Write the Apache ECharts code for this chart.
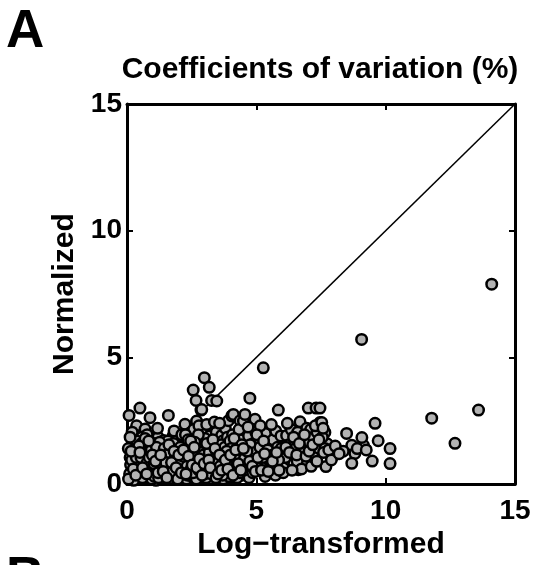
<!DOCTYPE html>
<html>
<head>
<meta charset="utf-8">
<script src="https://cdn.jsdelivr.net/npm/echarts@6/dist/echarts.min.js"></script>
<style>
  html, body { margin: 0; padding: 0; background: #fff; }
  #chart { width: 535px; height: 565px; }
</style>
</head>
<body>
<div id="chart"></div>
<script>
// Coefficient of variation (%) per feature: [log-transformed, normalized]
const cvPairs = [
  // 0 – 0.5
  [0.08,2.71],[0.18,0.50],[0.12,1.05],[0.22,1.62],[0.15,0.28],[0.30,0.85],[0.37,2.30],[0.28,1.95],
  [0.42,1.30],[0.35,0.62],[0.45,0.35],[0.25,1.18],[0.48,1.78],[0.40,0.95],[0.20,2.05],[0.33,1.45],
  // 0.5 – 1
  [0.50,3.00],[0.70,2.17],[0.89,2.62],[0.89,0.18],[0.55,0.45],[0.62,1.10],[0.68,0.72],[0.75,1.55],
  [0.80,0.30],[0.58,1.85],[0.85,1.25],[0.95,0.88],[0.72,0.55],[0.92,1.70],[0.65,1.38],[0.98,0.40],
  [0.78,1.95],[0.52,0.78],
  // 1 – 1.5
  [1.05,0.62],[1.10,1.20],[1.15,0.35],[1.20,1.85],[1.25,0.95],[1.30,1.50],[1.35,0.20],[1.40,0.75],
  [1.45,1.10],[1.08,1.60],[1.18,2.20],[1.28,0.50],[1.38,1.35],[1.48,0.28],[1.22,0.82],[1.42,1.72],
  [1.12,0.15],
  // 1.5 – 2
  [1.60,2.71],[1.55,0.45],[1.62,1.05],[1.68,1.45],[1.72,0.68],[1.78,1.90],[1.85,0.30],[1.90,1.25],
  [1.95,0.90],[1.58,1.70],[1.65,0.22],[1.75,1.15],[1.82,2.10],[1.88,0.55],[1.98,1.60],[1.70,0.95],
  [1.92,1.40],
  // 2 – 2.5
  [2.24,2.36],[2.05,0.60],[2.10,1.30],[2.15,0.35],[2.20,1.80],[2.28,0.85],[2.32,1.55],[2.38,0.48],
  [2.42,1.15],[2.48,2.05],[2.08,1.00],[2.18,1.62],[2.30,0.20],[2.40,0.72],[2.45,1.38],[2.12,1.95],
  [2.35,1.05],[2.22,0.62],
  // 2.5 – 3
  [2.50,0.31],[2.56,3.71],[2.67,3.30],[2.86,2.92],[2.69,2.49],[2.89,2.94],[2.99,4.20],[2.55,1.25],
  [2.60,0.75],[2.65,1.85],[2.70,0.40],[2.75,1.10],[2.80,1.60],[2.85,0.58],[2.90,2.10],[2.95,0.95],
  [2.58,2.15],[2.72,1.45],[2.82,0.25],[2.92,1.30],[2.62,0.55],[2.78,2.30],[2.98,1.75],[2.52,1.65],
  [2.88,1.05],
  // 3 – 3.5
  [3.18,3.82],[3.27,3.30],[3.27,2.17],[3.05,0.70],[3.10,1.40],[3.15,0.35],[3.20,1.90],[3.25,1.05],
  [3.30,0.55],[3.35,1.65],[3.40,0.85],[3.45,2.05],[3.08,2.35],[3.12,1.15],[3.22,0.22],[3.32,1.30],
  [3.42,0.40],[3.48,1.50],[3.02,1.80],[3.38,2.45],[3.47,3.28],
  // 3.5 – 4
  [3.66,1.92],[3.55,0.65],[3.60,1.25],[3.65,0.30],[3.70,1.70],[3.75,0.90],[3.80,2.20],[3.85,0.50],
  [3.90,1.45],[3.95,1.05],[3.92,2.50],[3.58,2.40],[3.72,0.20],[3.82,1.20],[3.62,0.95],[3.88,1.85],
  [3.52,1.55],
  // 4 – 4.5
  [4.05,2.69],[4.05,0.24],[4.11,2.75],[4.43,1.34],[4.37,2.50],[4.10,0.80],[4.15,1.55],[4.20,0.45],
  [4.25,1.95],[4.30,1.10],[4.35,0.65],[4.40,1.75],[4.45,0.35],[4.48,2.20],[4.18,1.25],[4.28,0.90],
  [4.08,1.95],[4.33,2.15],
  // 4.5 – 5
  [4.50,2.49],[4.56,2.75],[4.75,3.39],[4.95,2.56],[4.55,0.85],[4.60,1.45],[4.65,0.40],[4.70,1.90],
  [4.78,1.15],[4.82,0.60],[4.88,1.60],[4.92,0.95],[4.98,2.05],[4.62,1.05],[4.72,0.25],[4.85,1.30],
  [4.68,2.25],
  // 5 – 5.5
  [5.27,4.59],[5.08,0.57],[5.05,1.25],[5.12,1.80],[5.18,0.80],[5.22,1.40],[5.30,0.45],[5.35,2.00],
  [5.40,1.10],[5.45,1.65],[5.15,2.30],[5.38,0.75],[5.48,0.95],[5.25,1.05],[5.02,1.95],
  // 5.5 – 6
  [5.85,2.92],[5.79,0.57],[5.55,1.30],[5.60,0.85],[5.65,1.75],[5.70,1.05],[5.75,2.10],[5.82,1.45],
  [5.90,0.70],[5.95,1.90],[5.58,2.35],[5.68,0.45],[5.92,1.15],
  // 6 – 6.5
  [6.17,1.92],[6.05,1.20],[6.10,0.65],[6.25,1.55],[6.30,0.95],[6.35,2.15],[6.40,1.35],[6.45,0.80],
  [6.20,2.40],[6.48,1.70],[6.12,1.05],
  // 6.5 – 7
  [6.69,2.46],[6.62,0.57],[6.55,1.45],[6.60,2.05],[6.70,1.20],[6.78,1.80],[6.85,0.95],[6.90,1.55],
  [6.95,2.20],[6.58,0.90],[6.82,1.35],[6.75,0.60],
  // 7 – 7.5
  [7.01,3.00],[7.31,3.00],[7.46,2.43],[7.46,3.00],[7.05,1.65],[7.10,2.15],[7.15,1.25],[7.20,1.85],
  [7.25,0.95],[7.30,1.55],[7.35,2.05],[7.40,1.40],[7.12,0.70],[7.28,2.30],[7.22,1.05],
  // 7.5 – 8
  [7.53,2.43],[7.65,2.04],[7.74,1.59],[7.69,0.69],[7.98,1.12],[7.65,1.40],[7.55,1.85],[7.60,1.25],
  [7.80,1.35],[7.90,0.95],[7.58,2.20],
  // above 8
  [8.49,2.00],[8.69,1.53],[9.14,1.53],[8.81,1.21],[8.36,1.30],[8.69,0.82],[9.48,0.91],[9.08,1.84],
  [9.71,1.71],[10.17,1.40],[10.17,0.81],[9.59,2.40],[9.07,5.71],[11.78,2.60],[13.59,2.92],
  [12.68,1.61],[14.10,7.89],[8.05,1.50],[8.20,1.20],[8.90,1.40],[9.25,1.35]
];

// Additional low-variation features packed into the dense band near the origin
const cvPairsDense = [
  [0.10,0.40],[0.14,0.75],[0.26,0.15],[0.32,1.25],[0.44,0.55],[0.05,1.40],[0.38,1.70],[0.18,0.95],
  [0.60,0.25],[0.66,0.90],[0.74,1.20],[0.82,0.60],[0.88,1.45],[0.96,0.20],[0.56,1.60],[0.70,1.80],
  [1.02,1.00],[1.16,0.55],[1.24,1.30],[1.32,0.40],[1.36,1.05],[1.46,0.60],[1.06,0.30],[1.26,1.65],
  [1.52,1.20],[1.60,0.70],[1.66,0.40],[1.74,1.30],[1.84,0.80],[1.94,0.45],[1.56,1.45],[1.80,1.60],
  [2.02,0.35],[2.06,1.45],[2.14,0.80],[2.26,1.20],[2.34,0.35],[2.44,0.95],[2.26,1.95],[2.36,1.75],
  [2.54,0.95],[2.64,1.35],[2.68,0.20],[2.74,0.80],[2.84,1.25],[2.94,0.50],[2.76,1.95],[2.62,1.65],
  [3.04,1.05],[3.14,0.75],[3.24,1.55],[3.34,0.45],[3.44,1.20],[3.06,0.25],[3.28,0.85],[3.46,0.70],
  [3.56,1.00],[3.64,1.55],[3.74,0.50],[3.84,0.80],[3.94,0.30],[3.68,1.20],[3.78,1.45],[3.98,1.70],
  [4.02,1.40],[4.12,0.55],[4.22,1.00],[4.32,1.45],[4.42,0.90],[4.14,1.80],[4.26,0.25],[4.46,1.20],
  [4.52,0.55],[4.58,1.20],[4.66,0.70],[4.76,1.55],[4.86,0.45],[4.94,1.25],[5.04,0.65],[5.14,1.45],
  [5.28,1.70],[5.34,0.30],[5.44,1.35],[5.56,0.60],[5.64,1.15],[5.74,0.35],[5.86,0.95],[5.96,1.40],
  [6.04,0.45],[6.14,1.45],[6.28,1.25],[6.38,0.55],[6.44,1.85],[6.56,1.15],[6.66,1.60],[6.86,1.95],
  [6.92,1.10],[7.04,1.30],[7.18,1.55],[7.34,0.90],[7.42,1.75],
  [0.06,0.20],[0.24,0.60],[0.36,1.05],[0.46,1.50],[0.12,1.85],[0.54,1.05],[0.64,0.50],[0.78,0.85],
  [0.86,1.05],[0.94,1.35],[1.04,0.80],[1.14,1.45],[1.22,0.25],[1.34,0.65],[1.44,1.40],[1.50,0.85],
  [1.64,1.25],[1.76,0.50],[1.86,1.05],[1.96,0.20],[2.04,0.85],[2.16,1.10],[2.20,0.50],[2.32,0.70],
  [2.40,1.30],[2.48,0.60],[2.56,0.45],[2.66,1.05],[2.78,0.55],[2.86,0.85],[2.96,1.15],[3.00,0.40],
  [3.12,0.55],[3.18,1.25],[3.26,0.40],[3.36,1.00],[3.44,0.25],[3.50,0.95],[3.60,0.70],[3.70,0.35],
  [3.76,1.10],[3.86,1.30],[3.96,0.75],[4.04,0.50],[4.16,1.05],[4.24,0.70],[4.36,0.45],[4.44,1.55],
  [4.54,1.00],[4.64,1.30],[4.74,0.90],[4.84,0.70],[4.96,0.50],[5.06,1.05],[5.20,0.55],[5.32,1.20],
  [5.46,0.50],[5.62,0.90],[5.78,1.25],[5.88,0.55],
  [0.16,1.30],[0.34,0.35],[0.50,1.25],[0.60,0.65],[0.76,0.40],[0.84,1.70],[0.98,1.15],[1.10,0.90],
  [1.20,0.45],[1.30,1.15],[1.40,0.50],[1.54,0.25],[1.62,1.55],[1.72,0.85],[1.82,1.30],[1.90,0.65],
  [2.00,1.15],[2.10,0.45],[2.18,1.35],[2.28,0.40],[2.38,1.10],[2.46,1.70],[2.52,0.75],[2.60,1.45],
  [2.70,0.65],[2.80,1.00],[2.90,0.35],[2.98,0.80],[3.08,1.60],[3.16,0.95],[3.22,0.65],[3.32,1.75],
  [3.40,1.40],[3.52,0.40],[3.58,1.15],[3.66,0.55],[3.80,0.95],[3.90,0.60],[4.00,1.15],[4.10,0.35],
  [4.20,1.35],[4.30,0.80],[4.40,0.55],[4.50,1.40]
];

// Identity reference line y = x
const identityLine = [[0, 0], [15, 15]];

const axisMin = 0;
const axisMax = 15;
const tickStep = 5;

const titleText = 'Coefficients of variation (%)';
const xAxisTitle = 'Log\u2212transformed';
const yAxisTitle = 'Normalized';
const panelLetter = 'A';
const nextPanelLetter = 'B';

const FONT = '"Liberation Sans", Arial, Helvetica, sans-serif';

const tickLabelStyle = { color: '#000', fontFamily: FONT, fontWeight: 'bold', fontSize: 28 };
const axisNameStyle = { color: '#000', fontFamily: FONT, fontWeight: 'bold', fontSize: 30 };
const frameLine = { show: true, onZero: false, lineStyle: { color: '#000', width: 3 } };
const innerTick = { show: true, inside: true, length: 6, lineStyle: { color: '#000', width: 2 } };

function frameAxis(extra) {
  return Object.assign({
    type: 'value', min: axisMin, max: axisMax, interval: tickStep,
    axisLine: frameLine, axisTick: innerTick, splitLine: { show: false }
  }, extra);
}

const chart = echarts.init(document.getElementById('chart'), null, { renderer: 'canvas' });

chart.setOption({
  backgroundColor: '#fff',
  animation: false,
  title: {
    text: titleText,
    left: 315, textAlign: 'center', top: 50,
    textStyle: { color: '#000', fontFamily: FONT, fontWeight: 'bold', fontSize: 30 }
  },
  graphic: [
    { type: 'text', left: 6, top: 6,
      style: { text: panelLetter, fill: '#000', font: 'bold 53px ' + FONT } },
    { type: 'text', left: 6, top: 553,
      style: { text: nextPanelLetter, fill: '#000', font: 'bold 53px ' + FONT } }
  ],
  grid: { left: 127, top: 104, width: 388, height: 389, containLabel: false },
  xAxis: [
    frameAxis({
      position: 'bottom',
      name: xAxisTitle, nameLocation: 'middle', nameGap: 33,
      nameTextStyle: axisNameStyle,
      axisLabel: Object.assign({ margin: 13 }, tickLabelStyle)
    }),
    frameAxis({ position: 'top', axisLabel: { show: false } })
  ],
  yAxis: [
    frameAxis({
      position: 'left',
      name: yAxisTitle, nameLocation: 'middle', nameGap: 47,
      nameTextStyle: axisNameStyle,
      axisLabel: Object.assign({
        margin: 5, hideOverlap: false,
        verticalAlignMinLabel: 'middle', verticalAlignMaxLabel: 'middle'
      }, tickLabelStyle)
    }),
    frameAxis({ position: 'right', axisLabel: { show: false } })
  ],
  series: [
    {
      type: 'line',
      data: identityLine,
      symbol: 'none',
      silent: true,
      z: 1,
      lineStyle: { color: '#000', width: 1.5 }
    },
    {
      type: 'scatter',
      data: cvPairs.concat(cvPairsDense),
      symbol: 'circle',
      symbolSize: 10.5,
      z: 2,
      itemStyle: { color: '#b3b3b3', borderColor: '#000', borderWidth: 2.5, opacity: 1 }
    }
  ]
});
</script>
</body>
</html>
